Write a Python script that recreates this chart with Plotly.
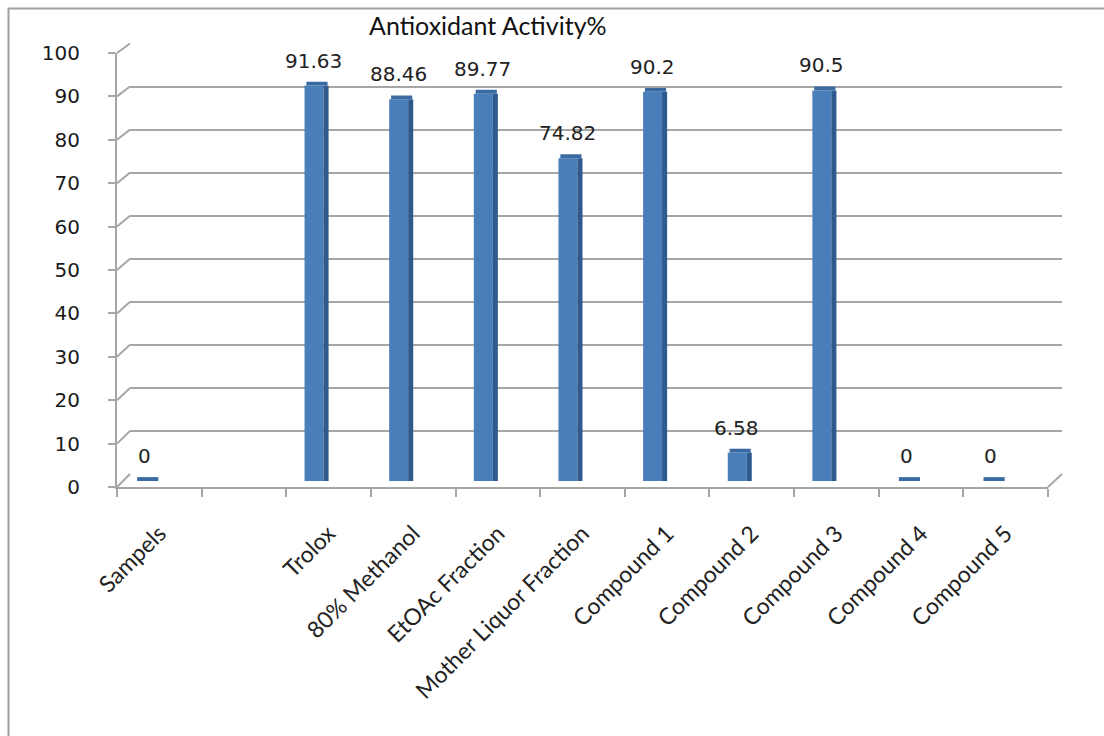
import plotly.graph_objects as go

# ---- data ----
categories = ["Sampels", " ", "Trolox", "80% Methanol", "EtOAc Fraction",
              "Mother Liquor Fraction", "Compound 1", "Compound 2",
              "Compound 3", "Compound 4", "Compound 5"]
values = [0, None, 91.63, 88.46, 89.77, 74.82, 90.2, 6.58, 90.5, 0, 0]
value_labels = ["0", "", "91.63", "88.46", "89.77", "74.82", "90.2", "6.58", "90.5", "0", "0"]
y_ticks = [0, 10, 20, 30, 40, 50, 60, 70, 80, 90, 100]
title_text = "Antioxidant Activity%"

# ---- layout geometry (pixels) ----
W, H = 1104, 736
def px_x(p):
    return p / W
def px_y(p):
    return 1 - p / H

FRONT_X = (117, 1048)
FRONT_Y = (487, 53)      # y pixel of 0 and 100
BACK_X = (130, 1062)
BACK_Y = (474, 43.5)
BAR_Y = (481, 49.5)

GRID = "#a6a6a6"
FACE = "#4a7ebb"
SIDE = "#2f5a8e"
CAP = "#3b6aa2"

fig = go.Figure()

fig.add_trace(go.Scatter(x=[0], y=[0], xaxis="x", yaxis="y", mode="markers",
                         marker=dict(opacity=0), showlegend=False, hoverinfo="skip"))

bar_vals = list(values)
cap_h = [0.9 if v is not None else None for v in values]
fig.add_trace(go.Bar(x=categories, y=bar_vals, xaxis="x2", yaxis="y2",
                     marker=dict(color=FACE, line=dict(width=0)),
                     width=0.2246, offset=-0.284, showlegend=False))
fig.add_trace(go.Bar(x=categories, y=bar_vals, xaxis="x2", yaxis="y2",
                     marker=dict(color=SIDE, line=dict(width=0)),
                     width=0.06, offset=-0.06, showlegend=False))
fig.add_trace(go.Bar(x=categories, y=cap_h, base=[v if v is not None else 0 for v in values],
                     xaxis="x2", yaxis="y2",
                     marker=dict(color=CAP, line=dict(width=0)),
                     width=0.25, offset=-0.262, showlegend=False))

fig.add_trace(go.Scatter(x=categories, y=[v if v is not None else 0 for v in values],
                         xaxis="x3", yaxis="y3", mode="markers",
                         marker=dict(opacity=0), showlegend=False, hoverinfo="skip"))

annotations = []
for c, v, t in zip(categories, values, value_labels):
    if v is None:
        continue
    annotations.append(dict(x=c, y=v, xref="x2", yref="y2", text=t, showarrow=False,
                            xanchor="center", yanchor="bottom", xshift=-15, yshift=11,
                            font=dict(family="DejaVu Sans", size=20, color="#222222")))

annotations.append(dict(x=px_x(488), y=px_y(25), xref="paper", yref="paper",
                        text=title_text, showarrow=False, xanchor="center", yanchor="middle",
                        font=dict(family="Lato", size=25, color="#111111")))

shapes = []
shapes.append(dict(type="rect", xref="paper", yref="paper",
                   x0=px_x(8.5), x1=px_x(1120), y0=px_y(760), y1=px_y(8.5),
                   line=dict(color="#a0a0a0", width=2), fillcolor="rgba(0,0,0,0)", layer="below"))
for v in y_ticks:
    yf = FRONT_Y[0] + (FRONT_Y[1] - FRONT_Y[0]) * v / 100
    yb = BACK_Y[0] + (BACK_Y[1] - BACK_Y[0]) * v / 100
    shapes.append(dict(type="line", xref="paper", yref="paper",
                       x0=px_x(FRONT_X[0]), y0=px_y(yf), x1=px_x(BACK_X[0]), y1=px_y(yb),
                       line=dict(color=GRID, width=2), layer="below"))
shapes.append(dict(type="line", xref="paper", yref="paper",
                   x0=px_x(FRONT_X[1]), y0=px_y(FRONT_Y[0]), x1=px_x(BACK_X[1]), y1=px_y(BACK_Y[0]),
                   line=dict(color=GRID, width=2), layer="below"))

cat_range = [-0.5, len(categories) - 0.5]

fig.update_layout(
    width=W, height=H, autosize=False,
    margin=dict(l=0, r=0, t=0, b=0, pad=0),
    paper_bgcolor="white", plot_bgcolor="rgba(0,0,0,0)",
    showlegend=False,
    barmode="overlay",
    annotations=annotations,
    shapes=shapes,
    xaxis=dict(domain=[px_x(BACK_X[0]), px_x(BACK_X[1])], range=[0, 1], automargin=False,
               showgrid=False, zeroline=False, showticklabels=False, showline=False),
    yaxis=dict(domain=[px_y(BACK_Y[0]), px_y(BACK_Y[1])], range=[0, 100], automargin=False,
               tickvals=y_ticks, showgrid=True, gridcolor=GRID, gridwidth=2,
               zeroline=False, showticklabels=False, showline=False),
    xaxis2=dict(domain=[px_x(FRONT_X[0]), px_x(FRONT_X[1])], type="category", automargin=False,
                categoryorder="array", categoryarray=categories, range=cat_range,
                showgrid=False, zeroline=False, showticklabels=False, showline=False,
                anchor="y2"),
    yaxis2=dict(domain=[px_y(BAR_Y[0]), px_y(BAR_Y[1])], range=[0, 100], automargin=False,
                showgrid=False, zeroline=False, showticklabels=False, showline=False,
                anchor="x2"),
    xaxis3=dict(domain=[px_x(FRONT_X[0]), px_x(FRONT_X[1])], type="category", automargin=False,
                categoryorder="array", categoryarray=categories, range=cat_range,
                showgrid=False, zeroline=False, showline=True, linecolor=GRID, linewidth=2,
                ticks="outside", tickson="boundaries", ticklen=8, tickwidth=2, tickcolor=GRID,
                tickangle=-45, ticklabelstandoff=22,
                tickfont=dict(family="Lato", size=23, color="#222222"),
                anchor="y3"),
    yaxis3=dict(domain=[px_y(FRONT_Y[0]), px_y(FRONT_Y[1])], range=[0, 100], automargin=False,
                tickvals=y_ticks, showgrid=False, zeroline=False, showline=True,
                linecolor=GRID, linewidth=2, ticks="outside", ticklen=7, tickwidth=2,
                tickcolor=GRID, ticklabelstandoff=24,
                tickfont=dict(family="DejaVu Sans", size=20, color="#1a1a1a"),
                anchor="x3"),
)

fig.write_html("out.html")

# make sure the page itself adds no margin around the figure
with open("out.html", "r", encoding="utf-8") as f:
    html = f.read()
html = html.replace("<head>", "<head><style>html,body{margin:0;padding:0;overflow:hidden;}</style>", 1)
with open("out.html", "w", encoding="utf-8") as f:
    f.write(html)
